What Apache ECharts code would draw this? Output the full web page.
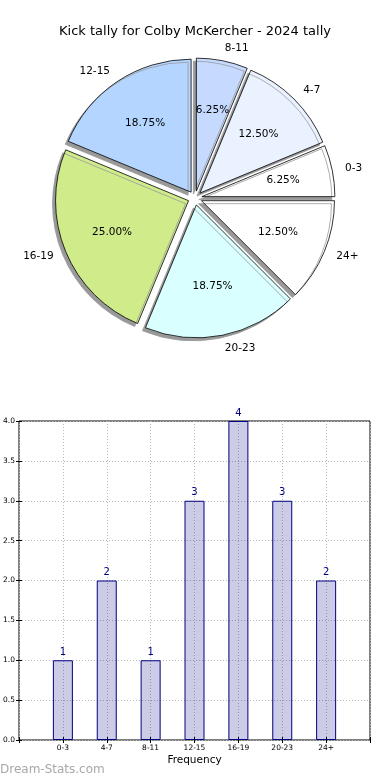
<!DOCTYPE html>
<html>
<head>
<meta charset="utf-8">
<script src="https://cdn.jsdelivr.net/npm/echarts@6/dist/echarts.min.js"></script>
<style>
html,body{margin:0;padding:0;background:#fff;}
#c{width:390px;height:780px;}
</style>
</head>
<body>
<div id="c"></div>
<script>
var titleText = 'Kick tally for Colby McKercher - 2024 tally';
var categories = ['0-3', '4-7', '8-11', '12-15', '16-19', '20-23', '24+'];
var counts = [1, 2, 1, 3, 4, 3, 2];
var sliceColors = ['#FFFFFF', '#EAF2FF', '#C6DAFF', '#B3D5FF', '#CFEB8A', '#D9FFFF', '#FFFFFF'];
var yTicks = [0, 0.5, 1, 1.5, 2, 2.5, 3, 3.5, 4];
var xAxisName = 'Frequency';
var watermark = 'Dream-Stats.com';

var FONT = 'DejaVu Sans';
var R = 133;
var CX = 195, CY = 198;

var pieData = categories.map(function (c, i) {
  return { name: c, value: counts[i], selected: true, itemStyle: { color: sliceColors[i] } };
});
var pieLabelData = categories.map(function (c, i) {
  return { name: c, value: counts[i], selected: true };
});
var barData = categories.map(function (c, i) { return [i + 1, counts[i]]; });

var chart = echarts.init(document.getElementById('c'), null, { renderer: 'canvas' });
chart.setOption({
  animation: false,
  backgroundColor: '#fff',
  title: {
    text: titleText,
    left: 'center',
    top: 20,
    textStyle: { fontFamily: FONT, fontSize: 13, fontWeight: 'normal', color: '#000' }
  },
  graphic: [{
    type: 'text',
    left: 0,
    top: 764,
    style: { text: watermark, fontFamily: FONT, fontSize: 12, fill: '#a8a8a8' }
  }],
  grid: {
    left: 19, top: 421, right: 20, bottom: 40,
    show: true, borderColor: '#000', borderWidth: 1, backgroundColor: 'transparent'
  },
  xAxis: [{
    type: 'value', min: 0, max: categories.length + 1, interval: 1,
    name: xAxisName, nameLocation: 'middle', nameGap: 15,
    nameTextStyle: { fontFamily: FONT, fontSize: 10.5, color: '#000' },
    axisLine: { show: false },
    axisTick: { show: true, inside: true, length: 3, lineStyle: { color: '#000' } },
    axisLabel: {
      fontFamily: FONT, fontSize: 7.5, color: '#000', margin: 4,
      formatter: function (v) { return categories[v - 1] || ''; }
    },
    splitLine: { show: true, lineStyle: { type: [1, 2], color: '#b8b8b8', width: 1 } }
  }, {
    type: 'value', position: 'top', min: 0, max: categories.length + 1, interval: 1,
    axisLine: { show: false }, axisLabel: { show: false }, splitLine: { show: false },
    axisTick: { show: true, inside: true, length: 3, lineStyle: { color: '#000' } }
  }],
  yAxis: [{
    type: 'value', min: yTicks[0], max: yTicks[yTicks.length - 1], interval: yTicks[1] - yTicks[0],
    axisLine: { show: false },
    axisTick: { show: true, inside: true, length: 3, lineStyle: { color: '#000' } },
    axisLabel: {
      fontFamily: FONT, fontSize: 7.5, color: '#000', margin: 4,
      formatter: function (v) { return v.toFixed(1); }
    },
    splitLine: { show: true, lineStyle: { type: [1, 2], color: '#b8b8b8', width: 1 } }
  }, {
    type: 'value', position: 'right', min: yTicks[0], max: yTicks[yTicks.length - 1], interval: yTicks[1] - yTicks[0],
    axisLine: { show: false }, axisLabel: { show: false }, splitLine: { show: false },
    axisTick: { show: true, inside: true, length: 3, lineStyle: { color: '#000' } }
  }],
  series: [{
    type: 'pie',
    center: [CX, CY],
    radius: [0, R],
    startAngle: 0,
    clockwise: false,
    selectedMode: 'multiple',
    selectedOffset: 7,
    avoidLabelOverlap: false,
    silent: true,
    emphasis: { disabled: true },
    itemStyle: {
      borderColor: '#000', borderWidth: 0.8,
      shadowColor: '#999', shadowBlur: 0, shadowOffsetX: -3, shadowOffsetY: 3
    },
    label: {
      show: true, position: 'outside', distanceToLabelLine: 0,
      fontFamily: FONT, fontSize: 10.5, color: '#000',
      formatter: '{b}'
    },
    labelLine: { show: false, length: Math.round(R * 0.1), length2: 0 },
    data: pieData,
    z: 2
  }, {
    type: 'pie',
    center: [CX, CY],
    radius: [0, R * 1.2],
    startAngle: 0,
    clockwise: false,
    selectedMode: 'multiple',
    selectedOffset: 7,
    avoidLabelOverlap: false,
    silent: true,
    emphasis: { disabled: true },
    itemStyle: { color: 'rgba(0,0,0,0)', borderWidth: 0 },
    label: {
      show: true, position: 'inner',
      fontFamily: FONT, fontSize: 10.5, color: '#000',
      formatter: function (p) { return p.percent.toFixed(2) + '%'; }
    },
    labelLine: { show: false },
    data: pieLabelData,
    z: 3
  }, {
    type: 'bar',
    xAxisIndex: 0, yAxisIndex: 0,
    barWidth: 20,
    data: barData,
    itemStyle: { color: 'rgba(0,0,128,0.2)', borderColor: '#000080', borderWidth: 1 },
    label: {
      show: true, position: 'top', distance: 3,
      fontFamily: FONT, fontSize: 10, color: '#000080',
      formatter: function (p) { return p.value[1]; }
    },
    silent: true
  }]
});
</script>
</body>
</html>
